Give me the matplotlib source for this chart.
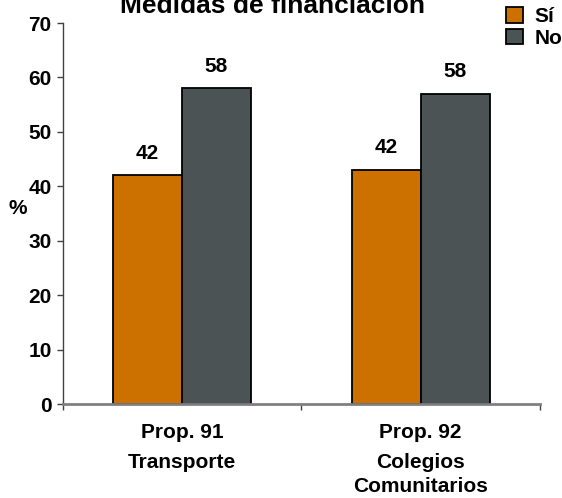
import matplotlib
matplotlib.use("Agg")
import matplotlib.pyplot as plt
import numpy as np

plt.rcParams['font.family'] = ['Liberation Sans', 'DejaVu Sans']
plt.rcParams['font.weight'] = 'bold'

title = "Medidas de financiación"
categories = ["Prop. 91", "Prop. 92"]
subtitles = ["Transporte", "Colegios\nComunitarios"]
series_names = ["Sí", "No"]
si_values = [42, 43]
no_values = [58, 57]
si_labels = ["42", "42"]
no_labels = ["58", "58"]
colors = ["#CC7000", "#4B5355"]

W, H = 562, 498
fig = plt.figure(figsize=(W / 100, H / 100), dpi=100)
ax = fig.add_axes([62.7 / W, (H - 404) / H, (540 - 62.7) / W, (404 - 23) / H])

x = np.arange(len(categories))
bw = 0.289
b1 = ax.bar(x - bw / 2, si_values, bw, color=colors[0], edgecolor='black', linewidth=1.3, label=series_names[0])
b2 = ax.bar(x + bw / 2, no_values, bw, color=colors[1], edgecolor='black', linewidth=1.3, label=series_names[1])

for bars, labs in ((b1, si_labels), (b2, no_labels)):
    for r, lab in zip(bars, labs):
        ax.annotate(lab, (r.get_x() + r.get_width() / 2, r.get_height()),
                    xytext=(0, 12), textcoords='offset points',
                    ha='center', va='baseline', fontsize=15, fontweight='bold')

ax.set_xlim(-0.5, len(categories) - 0.5)
ax.set_ylim(0, 70)
ax.set_yticks(np.arange(0, 71, 10))
ax.set_xticks(np.arange(-0.5, len(categories), 1.0))
ax.set_xticklabels([])
ax.tick_params(axis='y', length=4.3, width=1, color='#404040', pad=3.6, labelsize=15)
ax.tick_params(axis='x', length=4.3, width=1, color='#404040')
for t in ax.get_yticklabels():
    t.set_fontweight('bold')

ax.spines['top'].set_visible(False)
ax.spines['right'].set_visible(False)
ax.spines['left'].set_color('#404040')
ax.spines['left'].set_linewidth(1)
ax.spines['bottom'].set_color('#808080')
ax.spines['bottom'].set_linewidth(2)

px = 72 / 100  # points per pixel
for i, (c, s) in enumerate(zip(categories, subtitles)):
    ax.annotate(c, (i, 0), xycoords=('data', 'axes fraction'), xytext=(0, -34 * px),
                textcoords='offset points', ha='center', va='baseline',
                fontsize=15, fontweight='bold')
    for k, line in enumerate(s.split("\n")):
        ax.annotate(line, (i, 0), xycoords=('data', 'axes fraction'),
                    xytext=(0, -(64 + 24 * k) * px),
                    textcoords='offset points', ha='center', va='baseline',
                    fontsize=15, fontweight='bold')

fig.text(18 / W, 1 - 209 / H, "%", ha='center', va='center', fontsize=15, fontweight='bold')
fig.text(273 / W, 1 - 12.7 / H, title, ha='center', va='baseline', fontsize=19, fontweight='bold')

leg = fig.legend(handles=[b1, b2], labels=series_names, loc='upper left',
                 bbox_to_anchor=(506 / W, 1 - 7 / H), frameon=False,
                 borderpad=0, borderaxespad=0,
                 handlelength=0.81, handleheight=0.77, handletextpad=0.57,
                 labelspacing=0.12, prop={'weight': 'bold', 'size': 15})

fig.savefig("out.png", dpi=100)
